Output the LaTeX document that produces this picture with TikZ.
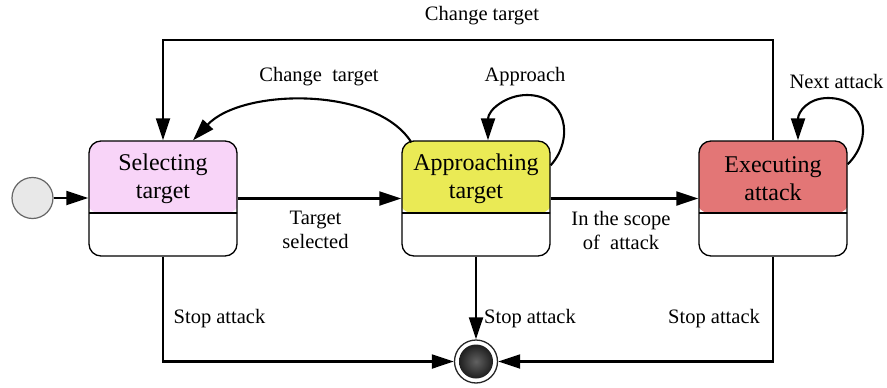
\documentclass[tikz,border=0pt]{standalone}
\usepackage{fontspec}
\setmainfont{Liberation Serif}
\newfontfamily\lserif{Liberation Serif}
\usetikzlibrary{arrows.meta,calc}
\definecolor{selC}{HTML}{F8D4F8}
\definecolor{appC}{HTML}{EAEA55}
\definecolor{exeC}{HTML}{E37676}
\tikzset{
  statebox/.style={draw=black, line width=1.3pt, rounded corners=12pt,
    minimum width=148pt, minimum height=115pt, inner sep=0pt,
    path picture={
      \fill[#1] ([yshift=2pt,xshift=-2pt]path picture bounding box.north west)
        rectangle ([yshift=-72pt,xshift=2pt]path picture bounding box.north east);
      \draw[line width=1.3pt] ([yshift=-72pt,xshift=-2pt]path picture bounding box.north west)
        -- ([yshift=-72pt,xshift=2pt]path picture bounding box.north east);}},
  conn/.style={line width=2.1pt, -{Triangle[length=22pt,width=14pt]}},
  lbl/.style={font=\lserif\fontsize{20.5}{24}\selectfont, align=center, inner sep=0pt},
  stxt/.style={font=\lserif\fontsize{24}{28}\selectfont, align=center, inner sep=0pt},
}
\begin{document}
\begin{tikzpicture}[x=1pt,y=-1pt]
\useasboundingbox (0,0) rectangle (887,388);
% states
\node[statebox=selC] (sel) at (163,198.5) {};
\node[statebox=appC] (app) at (476,198.5) {};
\node[statebox=exeC] (exe) at (773,198.5) {};
\node[stxt] (selT) at (163,178.5) {Selecting\\target};
\node[stxt] (appT) at (476,178.5) {Approaching\\target};
\node[stxt] (exeT) at (773,178.5) {Executing\\attack};
% initial and final
\node[circle, draw=black!60, line width=1.2pt, fill=black!9, minimum size=41pt, inner sep=0pt] (init) at (32.5,198) {};
\node[circle, draw=black!85, line width=1.3pt, fill=white, minimum size=43pt, inner sep=0pt] (fin) at (476,361.5) {};
\node[circle, shading=radial, inner color=black!62, outer color=black!88, minimum size=34pt, inner sep=0pt] (finIn) at (fin) {};
% connectors
\draw[conn] (init) -- (init -| sel.west);
\draw[conn] (sel) -- (app);
\draw[conn] (app) -- (exe);
\coordinate (apTop) at (527,95);
\draw[conn] ([yshift=-25pt]app.north east) .. controls (575,138) and (566,95) .. (apTop)
  .. controls (506,95) and (488,110) .. ([xshift=12pt]app.north);
\coordinate (naTop) at (828,98);
\draw[conn] ([yshift=-24pt]exe.north east) .. controls (874,138) and (866,98) .. (naTop)
  .. controls (808,98) and (798,112) .. ([xshift=25pt]exe.north);
\draw[conn] ([xshift=10pt,yshift=-2pt]app.north west) .. controls (376,86) and (242,88) .. ([xshift=30pt]sel.north);
\coordinate (cTop) at (0,40);
\draw[conn] (exe.north) -- (exe.north |- cTop) -| (sel.north);
\draw[conn] (sel.south) |- (fin);
\draw[conn] (app.south) -- (fin);
\draw[conn] (exe.south) |- (fin);
% labels
\node[lbl, anchor=base] (l1) at (482,20) {Change target};
\node[lbl, anchor=base] (l2) at (319,81) {Change\ \ target};
\node[lbl, anchor=base] (l3) at (525,81) {Approach};
\node[lbl, anchor=base] (l4) at (836.5,88) {Next attack};
\node[lbl] (l5) at (315.5,230) {Target\\selected};
\node[lbl] (l6) at (621,230) {In the scope\\of\ \ attack};
\node[lbl, anchor=base] (l7) at (219.5,323) {Stop attack};
\node[lbl, anchor=base] (l8) at (530,323) {Stop attack};
\node[lbl, anchor=base] (l9) at (714,323) {Stop attack};
\end{tikzpicture}
\end{document}
